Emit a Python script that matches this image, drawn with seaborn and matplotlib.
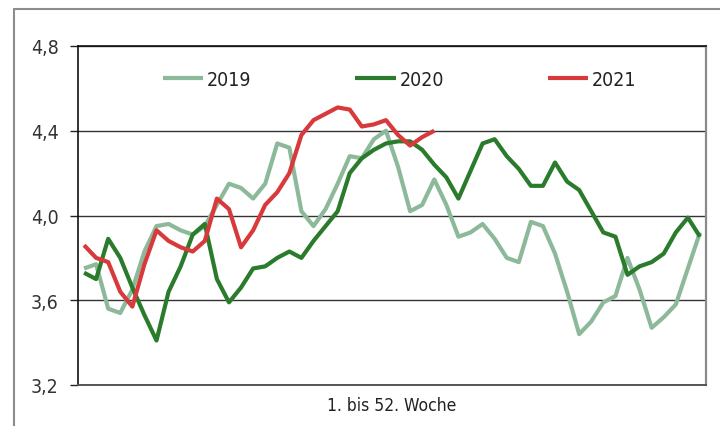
import matplotlib
matplotlib.use("Agg")
import matplotlib.pyplot as plt
from matplotlib.lines import Line2D
from matplotlib.ticker import FixedLocator, FuncFormatter
import seaborn as sns
import pandas as pd

weeks = list(range(1, 53))
years = ["2019", "2020", "2021"]
v2019 = [3.75, 3.77, 3.56, 3.54, 3.65, 3.83, 3.95, 3.96, 3.93, 3.91,
         3.95, 4.05, 4.15, 4.13, 4.08, 4.15, 4.34, 4.32, 4.02, 3.95,
         4.03, 4.15, 4.28, 4.27, 4.36, 4.40, 4.23, 4.02, 4.05, 4.17,
         4.05, 3.90, 3.92, 3.96, 3.89, 3.80, 3.78, 3.97, 3.95, 3.82,
         3.64, 3.44, 3.50, 3.59, 3.62, 3.80, 3.65, 3.47, 3.52, 3.58,
         3.75, 3.92]
v2020 = [3.73, 3.70, 3.89, 3.80, 3.66, 3.53, 3.41, 3.64, 3.76, 3.91,
         3.96, 3.70, 3.59, 3.66, 3.75, 3.76, 3.80, 3.83, 3.80, 3.88,
         3.95, 4.02, 4.20, 4.27, 4.31, 4.34, 4.35, 4.35, 4.31, 4.24,
         4.18, 4.08, 4.21, 4.34, 4.36, 4.28, 4.22, 4.14, 4.14, 4.25,
         4.16, 4.12, 4.02, 3.92, 3.90, 3.72, 3.76, 3.78, 3.82, 3.92,
         3.99, 3.90]
v2021 = [3.86, 3.80, 3.78, 3.64, 3.57, 3.77, 3.93, 3.88, 3.85, 3.83,
         3.88, 4.08, 4.03, 3.85, 3.93, 4.05, 4.11, 4.20, 4.38, 4.45,
         4.48, 4.51, 4.50, 4.42, 4.43, 4.45, 4.38, 4.33, 4.37, 4.40]
yticks = [3.2, 3.6, 4.0, 4.4, 4.8]
xlabel = "1. bis 52. Woche"
colors = {"2019": "#8cb999", "2020": "#2a7b2c", "2021": "#d8393b"}

df = pd.concat([
    pd.DataFrame({"Woche": weeks[:len(v)], "Wert": v, "Jahr": y})
    for y, v in zip(years, [v2019, v2020, v2021])
], ignore_index=True)

sns.set_theme(style="white")
plt.rcParams["font.family"] = ["DejaVu Sans"]
plt.rcParams["font.stretch"] = "condensed"

fig = plt.figure(figsize=(7.2, 4.27), dpi=100)
ax = fig.add_axes([78/720, 1-386/427, (706-78)/720, (386-47)/427])

sns.lineplot(data=df, x="Woche", y="Wert", hue="Jahr", hue_order=years,
             palette=colors, linewidth=3.0, ax=ax, legend=True,
             solid_capstyle="butt", solid_joinstyle="round")

ax.set_xlim(0.5, 52.5)
ax.set_ylim(3.2, 4.8)
ax.yaxis.set_major_locator(FixedLocator(yticks))
ax.yaxis.set_major_formatter(FuncFormatter(lambda v, p: f"{v:.1f}".replace(".", ",")))
ax.set_xticks([])
ax.set_ylabel("")
ax.set_xlabel(xlabel, fontsize=12.5, color="#222222", labelpad=8)
ax.tick_params(axis="y", left=True, length=6, width=1, color="#222222",
               pad=8, labelsize=14, labelcolor="#333333")
ax.grid(axis="y", color="#333333", linewidth=1.0)
ax.grid(axis="x", visible=False)
ax.set_axisbelow(True)
for s in ["left", "top"]:
    ax.spines[s].set_color("#111111")
    ax.spines[s].set_linewidth(1.2)
ax.spines["bottom"].set_color("#555555")
ax.spines["bottom"].set_linewidth(1.4)
ax.spines["right"].set_color("#8a8a8a")
ax.spines["right"].set_linewidth(1.6)

handles, labels = ax.get_legend_handles_labels()
leg = ax.legend(handles, labels, loc="center left",
                bbox_to_anchor=((163-78)/628, (386-80)/339),
                ncol=3, frameon=False, fontsize=14, handlelength=2.06,
                handletextpad=0.2, columnspacing=5.35, borderaxespad=0,
                borderpad=0)
for t in leg.get_texts():
    t.set_color("#222222")
for h in leg.legend_handles:
    h.set_linewidth(3.0)

# outer frame (cut off at right/bottom)
fig.add_artist(Line2D([14/720, 14/720], [-0.05, 1-10/427], color="#8c8c8c",
                      linewidth=1.5, transform=fig.transFigure))
fig.add_artist(Line2D([14/720, 1.05], [1-10/427, 1-10/427], color="#8c8c8c",
                      linewidth=1.5, transform=fig.transFigure))

fig.savefig("out.png", dpi=100)
